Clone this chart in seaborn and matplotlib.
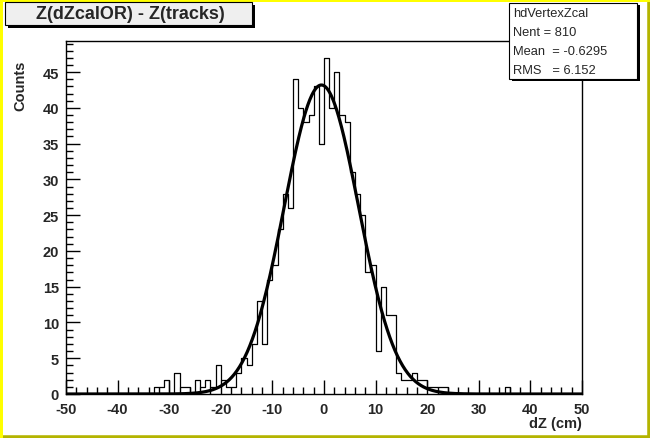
import numpy as np
import pandas as pd
import matplotlib
matplotlib.use("Agg")
import matplotlib.pyplot as plt
import seaborn as sns
from matplotlib.patches import Rectangle
from matplotlib.ticker import MultipleLocator

sns.set_style("white")
plt.rcParams['font.family'] = ['Liberation Sans', 'DejaVu Sans']

# D A T A  (1 cm bins, -50..50)
bin_lo = [-33, -32, -31, -30, -29, -28, -27, -26, -25, -24, -23, -22, -21, -20,
          -19, -18, -17, -16, -15, -14, -13, -12, -11, -10, -9, -8, -7, -6, -5,
          -4, -3, -2, -1, 0, 1, 2, 3, 4, 5, 6, 7, 8, 9, 10, 11, 12, 13, 14, 15,
          16, 17, 18, 19, 20, 21, 22, 23, 35]
counts = [1, 1, 2, 0, 3, 1, 1, 0, 2, 1, 2, 1, 4, 2,
          1, 1, 3, 5, 4, 7, 13, 7, 16, 18, 23, 28, 26, 44, 40,
          38, 39, 43, 35, 47, 40, 45, 39, 38, 31, 28, 25, 17, 18, 6, 15, 11, 11, 3, 2,
          2, 3, 2, 2, 1, 1, 1, 1, 1]

# gaussian fit shown on the plot
fit_const = 43.2
fit_mean = -0.5
fit_sigma = 7.2

stats_lines = ["hdVertexZcal", "Nent = 810", "Mean  = -0.6295", "RMS   = 6.152"]
title = "Z(dZcalOR) - Z(tracks)"

#############################################################################
W, H = 650, 439

def fx(px):
    return px / W

def fy(py):
    return 1 - py / H

fig = plt.figure(figsize=(W / 100, H / 100), dpi=100)
fig.patch.set_facecolor("white")

# canvas bevel border
fig.patches.append(Rectangle((0, 0), 1, 1, transform=fig.transFigure,
                             fill=False, lw=4, edgecolor="#b4b400", zorder=0))
fig.patches.append(Rectangle((0, fy(3)), 1, 3 / H, transform=fig.transFigure,
                             color="#ffff00", lw=0, zorder=1))
fig.patches.append(Rectangle((0, 0), 3 / W, 1, transform=fig.transFigure,
                             color="#ffff00", lw=0, zorder=1))

ax = fig.add_axes([fx(66), fy(395), fx(582 - 66), (395 - 42) / H])

hist_df = pd.DataFrame({"dz": np.array(bin_lo, dtype=float) + 0.5,
                        "n": np.array(counts, dtype=float)})
sns.histplot(data=hist_df, x="dz", weights="n", binwidth=1, binrange=(-50, 50),
             element="step", fill=False, color="black", linewidth=0.9, ax=ax)

xs = np.linspace(-50, 50, 801)
ys = fit_const * np.exp(-0.5 * ((xs - fit_mean) / fit_sigma) ** 2)
sns.lineplot(x=xs, y=ys, color="black", linewidth=2.3, ax=ax)

ax.set_xlim(-50, 50)
ax.set_ylim(0, 47 * 1.05)
ax.set_xlabel("")
ax.set_ylabel("")
for s in ax.spines.values():
    s.set_color("black")
    s.set_linewidth(1.0)

ax.xaxis.set_major_locator(MultipleLocator(10))
ax.xaxis.set_minor_locator(MultipleLocator(2))
ax.yaxis.set_major_locator(MultipleLocator(5))
ax.yaxis.set_minor_locator(MultipleLocator(1))
ax.tick_params(which="both", direction="in", color="black", width=1,
               bottom=True, left=True, top=False, right=False)
ax.tick_params(which="major", length=10, labelsize=10.5)
ax.tick_params(axis="x", which="major", pad=6)
ax.tick_params(axis="y", which="major", pad=5)
ax.tick_params(which="minor", length=5)
ax.set_xticks(np.arange(-50, 51, 10))
ax.set_xticklabels([str(v) for v in range(-50, 51, 10)], fontweight="bold")
ax.set_yticks(np.arange(0, 46, 5))
ax.set_yticklabels([str(v) for v in range(0, 46, 5)], fontweight="bold")

fig.text(fx(582), fy(424), "dZ (cm)", ha="right", va="center",
         fontsize=10.5, fontweight="bold")
fig.text(fx(20), fy(86), "Counts", rotation=90, ha="center", va="center",
         fontsize=10.5, fontweight="bold")

# title box with shadow
fig.patches.append(Rectangle((fx(8), fy(29)), fx(253 - 6), (29 - 6) / H,
                             transform=fig.transFigure, color="black", lw=0, zorder=5))
fig.patches.append(Rectangle((fx(5), fy(26)), fx(253 - 6), (26 - 3) / H,
                             transform=fig.transFigure, facecolor="#efefef",
                             edgecolor="black", lw=0.8, zorder=6))
fig.text(fx(130), fy(14.5), title, ha="center", va="center",
         fontsize=13, fontweight="bold", zorder=7)

# stats box with shadow
fig.patches.append(Rectangle((fx(512), fy(82)), fx(637 - 509), (80 - 4) / H,
                             transform=fig.transFigure, color="black", lw=0, zorder=5))
fig.patches.append(Rectangle((fx(509), fy(80)), fx(637 - 509), (80 - 4) / H,
                             transform=fig.transFigure, facecolor="white",
                             edgecolor="black", lw=0.8, zorder=6))
for i, line in enumerate(stats_lines):
    fig.text(fx(513), fy(14 + 19 * i), line, ha="left", va="center",
             fontsize=9.3, zorder=7)

plt.savefig("out.png", dpi=100)
